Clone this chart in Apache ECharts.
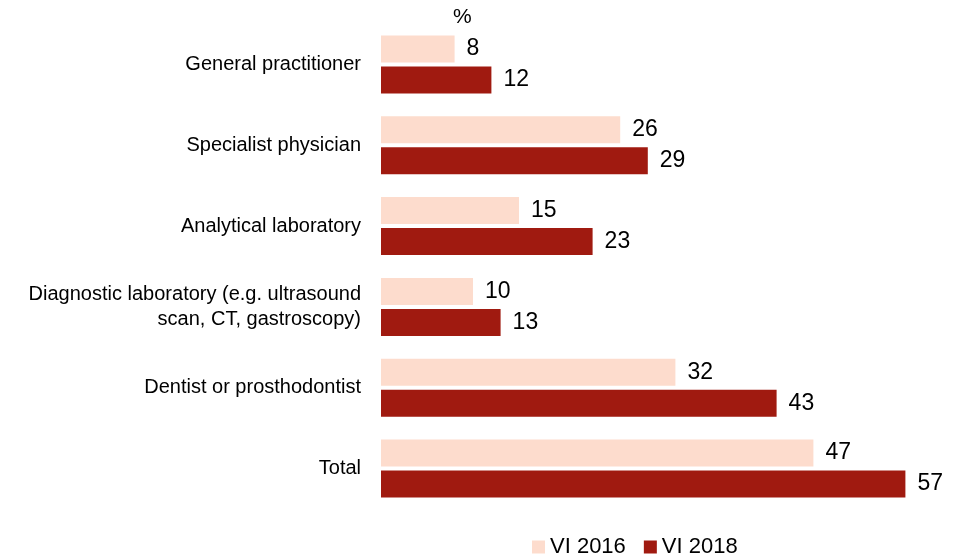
<!DOCTYPE html>
<html lang="en">
<head>
    <meta charset="utf-8">
    <title>Visits by provider type</title>
    <script src="https://cdn.jsdelivr.net/npm/echarts@6/dist/echarts.min.js"></script>
    <style>
        html, body, #chart { width: 100%; height: 100%; margin: 0; padding: 0; overflow: hidden; background: #fff; }
    </style>
</head>
<body>
<div id="chart"></div>
<script type="text/javascript">
    var categories = [
        'General practitioner',
        'Specialist physician',
        'Analytical laboratory',
        'Diagnostic laboratory (e.g. ultrasound\nscan, CT, gastroscopy)',
        'Dentist or prosthodontist',
        'Total'
    ];
    var seriesNames = ['VI 2016', 'VI 2018'];
    var values2016 = [8, 26, 15, 10, 32, 47];
    var values2018 = [12, 29, 23, 13, 43, 57];

    var chart = echarts.init(document.getElementById('chart'));

    // value labels on the right of each bar
    var labelStyle = {
        show: true,
        position: 'right',
        distance: 12,
        color: '#000',
        fontSize: 23,
        fontFamily: 'Liberation Sans, Arial, sans-serif'
    };

    var option = {
        animation: false,
        textStyle: { fontFamily: 'Liberation Sans, Arial, sans-serif' },
        title: {
            text: '%',
            left: 448,
            top: 2,
            textStyle: { fontSize: 21, fontWeight: 'normal', color: '#000' }
        },
        legend: {
            top: 531,
            left: 527,
            itemGap: 18,
            itemWidth: 13,
            itemHeight: 13,
            icon: 'rect',
            textStyle: { fontSize: 22, color: '#000' },
            data: seriesNames
        },
        grid: { left: 381, right: 20, top: 24, height: 485 },
        xAxis: {
            type: 'value',
            min: 0,
            max: 60,
            show: false
        },
        yAxis: {
            type: 'category',
            inverse: true,
            data: categories,
            axisLine: { show: false },
            axisTick: { show: false },
            axisLabel: {
                margin: 20,
                color: '#000',
                fontSize: 20,
                lineHeight: 25,
                align: 'right'
            }
        },
        series: [
            {
                name: seriesNames[0],
                type: 'bar',
                data: values2016,
                barWidth: 27,
                barGap: '15%',
                itemStyle: { color: '#fddccd' },
                label: labelStyle
            },
            {
                name: seriesNames[1],
                type: 'bar',
                data: values2018,
                barWidth: 27,
                itemStyle: { color: '#a01a10' },
                label: labelStyle
            }
        ]
    };

    chart.setOption(option);
</script>
</body>
</html>
